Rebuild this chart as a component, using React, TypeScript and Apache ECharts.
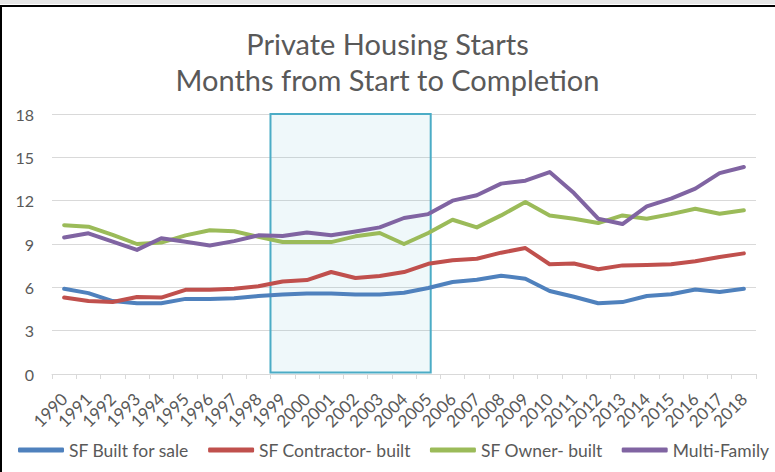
import React, { useEffect, useRef } from "react";
import * as echarts from "echarts";

const years = [
  "1990", "1991", "1992", "1993", "1994", "1995", "1996", "1997", "1998", "1999",
  "2000", "2001", "2002", "2003", "2004", "2005", "2006", "2007", "2008", "2009",
  "2010", "2011", "2012", "2013", "2014", "2015", "2016", "2017", "2018",
];

const sfBuiltForSale = [
  5.9, 5.6, 5.05, 4.9, 4.9, 5.2, 5.2, 5.25, 5.4, 5.5,
  5.58, 5.58, 5.5, 5.5, 5.63, 5.95, 6.37, 6.53, 6.8, 6.6,
  5.75, 5.35, 4.9, 4.98, 5.4, 5.52, 5.85, 5.68, 5.9,
];
const sfContractorBuilt = [
  5.3, 5.05, 4.98, 5.33, 5.29, 5.83, 5.83, 5.9, 6.07, 6.4,
  6.5, 7.06, 6.65, 6.79, 7.06, 7.63, 7.87, 7.98, 8.4, 8.72,
  7.6, 7.65, 7.25, 7.52, 7.55, 7.6, 7.8, 8.1, 8.35,
];
const sfOwnerBuilt = [
  10.3, 10.2, 9.63, 9.0, 9.1, 9.6, 9.95, 9.88, 9.5, 9.14,
  9.13, 9.13, 9.53, 9.76, 9.0, 9.76, 10.68, 10.15, 10.98, 11.9,
  10.98, 10.75, 10.45, 10.98, 10.75, 11.07, 11.44, 11.1, 11.33,
];
const multiFamily = [
  9.45, 9.74, 9.16, 8.59, 9.4, 9.16, 8.89, 9.2, 9.6, 9.55,
  9.8, 9.6, 9.87, 10.15, 10.8, 11.07, 12.0, 12.37, 13.18, 13.38,
  13.98, 12.53, 10.75, 10.38, 11.6, 12.14, 12.83, 13.91, 14.33,
];

const seriesNames = ["SF Built for sale", "SF Contractor- built", "SF Owner- built", "Multi-Family"];
const seriesData = [sfBuiltForSale, sfContractorBuilt, sfOwnerBuilt, multiFamily];
const seriesColors = ["#4F81BD", "#C0504D", "#9BBB59", "#8064A2"];

const yTicks = { min: 0, max: 18, interval: 3 };
// shaded period, in category-index units
const shadeStart = 8.5;
const shadeEnd = 15.1;

const FONT = "Lato, 'Open Sans', sans-serif";
const TEXT = "#595959";

export default function App() {
  const ref = useRef<HTMLDivElement>(null);

  useEffect(() => {
    document.body.style.margin = "0";
    const chart = echarts.init(ref.current!, undefined, { renderer: "svg" });
    const lineSeries = seriesNames.map((name, i) => ({
      name,
      type: "line",
      data: seriesData[i],
      symbol: "none",
      z: 3,
      lineStyle: { width: 4, color: seriesColors[i], cap: "round", join: "round" },
      itemStyle: { color: seriesColors[i] },
    }));
    chart.setOption({
      animation: false,
      backgroundColor: "#ffffff",
      textStyle: { fontFamily: FONT },
      title: {
        text: "Private Housing Starts\nMonths from Start to Completion",
        left: "center",
        top: 20,
        textStyle: {
          fontFamily: FONT,
          fontSize: 29,
          fontWeight: "normal",
          color: TEXT,
          lineHeight: 36,
        },
      },
      legend: {
        data: seriesNames,
        left: 13,
        top: 436,
        width: 775,
        itemWidth: 46,
        itemHeight: 5,
        itemGap: 19,
        icon: "roundRect",
        textStyle: { fontFamily: FONT, fontSize: 17.5, color: TEXT },
      },
      grid: { left: 52, right: 19, top: 114, bottom: 98, containLabel: false },
      xAxis: [
        {
          type: "category",
          data: years,
          boundaryGap: true,
          axisLine: { lineStyle: { color: "#D9D9D9", width: 1 } },
          axisTick: { show: true, length: 5, lineStyle: { color: "#D9D9D9" } },
          axisLabel: {
            rotate: 45,
            interval: 0,
            margin: 22,
            fontFamily: FONT,
            fontSize: 17,
            color: TEXT,
          },
          splitLine: { show: false },
        },
        {
          type: "value",
          min: -0.5,
          max: 28.5,
          show: false,
        },
      ],
      yAxis: {
        type: "value",
        min: yTicks.min,
        max: yTicks.max,
        interval: yTicks.interval,
        axisLine: { show: false },
        axisTick: { show: false },
        axisLabel: { fontFamily: FONT, fontSize: 16, color: TEXT, margin: 18 },
        splitLine: { lineStyle: { color: "#D9D9D9", width: 1 } },
      },
      series: [
        {
          name: "shade",
          type: "line",
          xAxisIndex: 1,
          data: [],
          z: 1,
          silent: true,
          markArea: {
            silent: true,
            itemStyle: {
              color: "rgba(75,172,198,0.09)",
              borderColor: "#4BACC6",
              borderWidth: 2,
            },
            data: [[{ xAxis: shadeStart, yAxis: 18 }, { xAxis: shadeEnd, yAxis: 0.1 }]],
          },
        },
        ...lineSeries,
      ],
      graphic: [
        { type: "rect", shape: { x: 0, y: 0, width: 775, height: 4 }, style: { fill: "#E6E6E6" } },
        { type: "line", shape: { x1: 0, y1: 6, x2: 775, y2: 6 }, style: { stroke: "#000", lineWidth: 2 } },
        { type: "line", shape: { x1: 1, y1: 5, x2: 1, y2: 472 }, style: { stroke: "#000", lineWidth: 2 } },
      ],
    });
    return () => chart.dispose();
  }, []);

  return (
    <div style={{ position: "fixed", left: 0, top: 0, width: 775, height: 472 }}>
      <div ref={ref} style={{ width: 775, height: 472 }} />
    </div>
  );
}
